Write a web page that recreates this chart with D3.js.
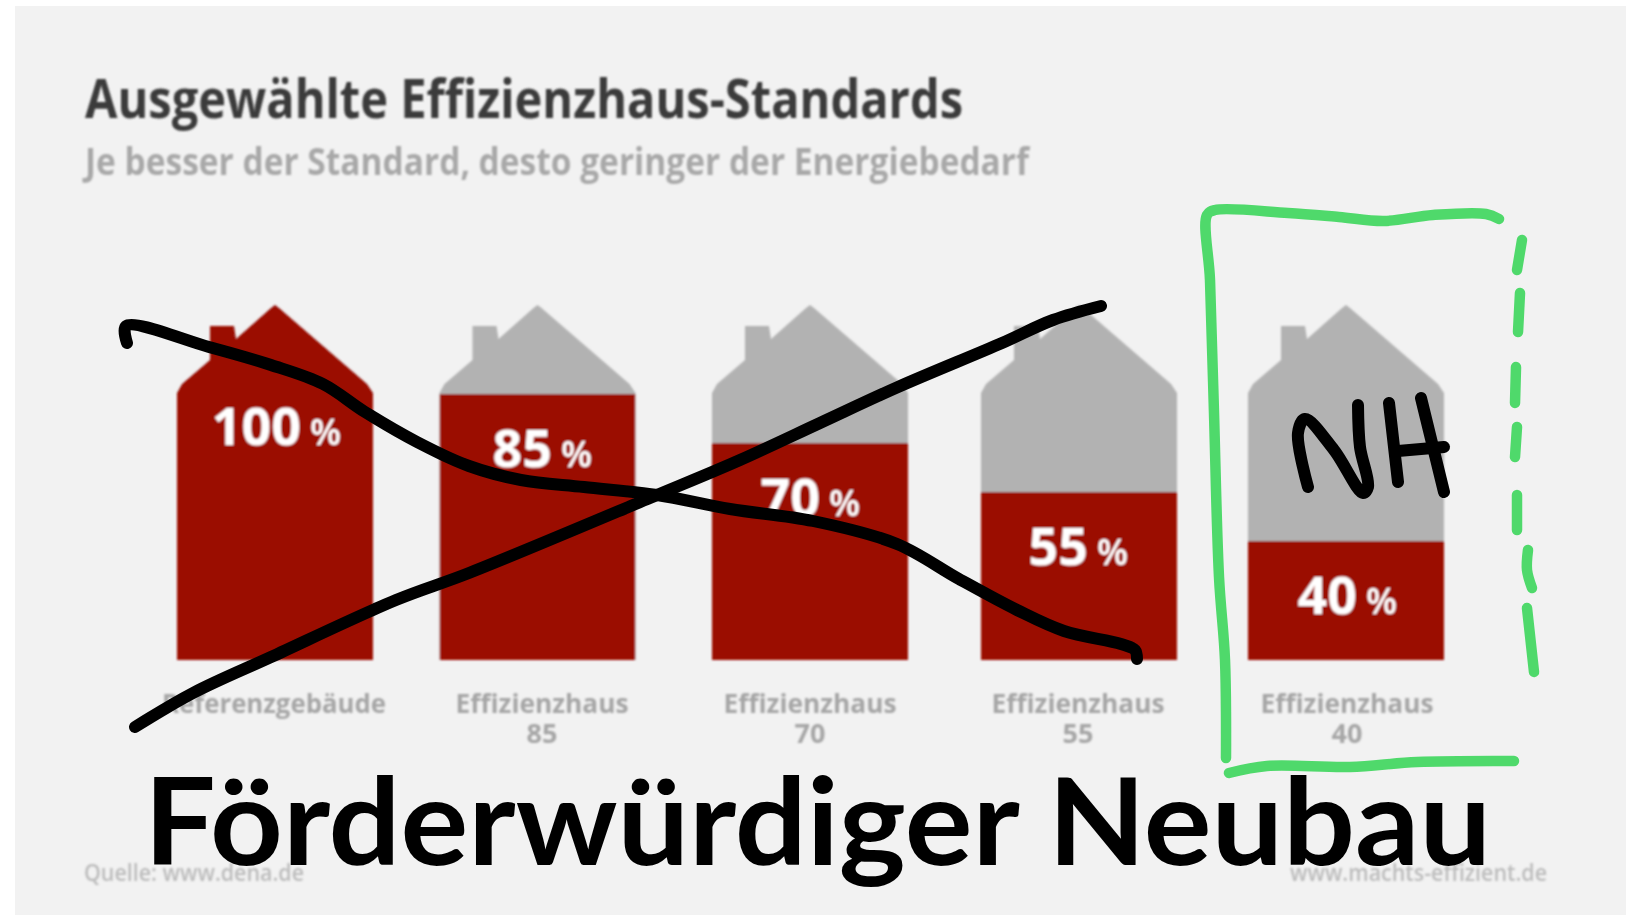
<!DOCTYPE html>
<html>
<head>
<meta charset="utf-8">
<script src="https://cdn.jsdelivr.net/npm/d3@7"></script>
<style>
  html, body { margin: 0; padding: 0; background: #fff; }
  svg { display: block; }
</style>
</head>
<body>
<div id="chart"></div>
<script>
const categories = ["Referenzgebäude", "Effizienzhaus", "Effizienzhaus", "Effizienzhaus", "Effizienzhaus"];
const subLabels = ["", "85", "70", "55", "40"];
const values = [100, 85, 70, 55, 40];
const titleText = "Ausgewählte Effizienzhaus-Standards";
const subtitleText = "Je besser der Standard, desto geringer der Energiebedarf";
const sourceText = "Quelle: www.dena.de";
const siteText = "www.machts-effizient.de";
const bigText = "Förderwürdiger Neubau";

// hand drawn strokes on top of the chart
const crossDown = [[127,343],[126,326],[209,347],[271,365],[323,384],[365,412],[417,442],[469,466],[521,480],[584,487],[657,495],[730,509],[813,521],[897,544],[959,579],[1017,610],[1064,631],[1121,644],[1135,650],[1137,659]];
const crossUp = [[135,727],[193,693],[271,657],[396,600],[469,573],[657,495],[740,460],[820,423],[898,387],[1002,343],[1053,320],[1101,306]];
const nhN = [[1308,487],[1298,433],[1305,419],[1334,450],[1363,493],[1368,487],[1360,447],[1358,405]];
const nhHLeft = [[1389,403],[1398,482]];
const nhHRight = [[1421,398],[1444,492]];
const nhHBar = [[1398,451],[1444,447]];
const greenOpen = [[1226,758],[1225,660],[1219,577],[1214,413],[1210,280],[1207,215],[1215,210],[1288,213],[1339,217],[1384,221],[1433,215],[1486,214],[1499,219]];
const greenBottom = [[1229,773],[1267,766],[1350,767],[1417,762],[1514,761]];
const greenDashes = [
  [[1522,240],[1517,270]],
  [[1520,293],[1518,332]],
  [[1516,367],[1515,403]],
  [[1517,427],[1515,457]],
  [[1517,495],[1517,530]],
  [[1528,550],[1527,570],[1532,588]],
  [[1527,608],[1534,672]]
];

const width = 1635, height = 915;
const red = "#9b0e04", grey = "#b2b2b2";

const svg = d3.select("#chart").append("svg")
  .attr("width", width)
  .attr("height", height);

const defs = svg.append("defs");
defs.append("filter").attr("id", "soft")
  .attr("x", "-5%").attr("y", "-20%").attr("width", "110%").attr("height", "140%")
  .append("feGaussianBlur").attr("stdDeviation", 1);

svg.append("rect")
  .attr("x", 15).attr("y", 6)
  .attr("width", 1611).attr("height", 909)
  .attr("fill", "#f2f2f2");

const base = svg.append("g").attr("filter", "url(#soft)");

// house centres are not evenly spaced in the picture
const idx = values.map((d, i) => i);
const houseX = d3.scaleOrdinal(idx, [275, 537.5, 810, 1079, 1346]);
const labelX = d3.scaleOrdinal(idx, [274, 542, 810, 1078, 1347]);
const pctX = d3.scaleOrdinal(idx, [310, 561, 829, 1097, 1366]);

const baseY = 660, houseW = 196;
const y = d3.scaleLinear().domain([40, 85, 100]).range([541, 394, 305]);

// outline of one house, relative to its left edge
const outline = [[0,baseY],[0,393],[5,384],[33,360],[33,326],[57,326],[59,339],[94,308],[98,305],[102,308],[190,384],[196,393],[196,baseY]];
const houseLine = d3.line();

const houses = base.selectAll("g.house").data(values).enter().append("g")
  .attr("class", "house")
  .attr("transform", (d, i) => "translate(" + (houseX(i) - houseW / 2) + ",0)");

houses.append("clipPath")
  .attr("id", (d, i) => "house" + i)
  .append("path").attr("d", houseLine(outline));

houses.append("path")
  .attr("d", houseLine(outline))
  .attr("fill", grey);

houses.append("rect")
  .attr("clip-path", (d, i) => "url(#house" + i + ")")
  .attr("x", 0).attr("width", houseW)
  .attr("y", d => y(d))
  .attr("height", d => baseY - y(d))
  .attr("fill", red);

// value labels, the 100 one sits lower than its fill edge
const valueBase = d => Math.max(y(d), 372) + 73;
const valueFont = "'Open Sans', sans-serif";

base.selectAll("text.num").data(values).enter().append("text")
  .attr("class", "num")
  .attr("x", (d, i) => pctX(i) - 9)
  .attr("y", valueBase)
  .attr("text-anchor", "end")
  .attr("font-family", valueFont)
  .attr("font-weight", 700)
  .attr("font-size", 52)
  .attr("fill", "#fff")
  .text(d => d);

base.selectAll("text.pct").data(values).enter().append("text")
  .attr("class", "pct")
  .attr("x", (d, i) => pctX(i))
  .attr("y", valueBase)
  .attr("font-family", valueFont)
  .attr("font-weight", 600)
  .attr("font-size", 36)
  .attr("fill", "#fff")
  .text("%");

// category labels
const labelFont = "'Open Sans', sans-serif";
base.selectAll("text.cat").data(categories).enter().append("text")
  .attr("class", "cat")
  .attr("x", (d, i) => labelX(i))
  .attr("y", 713)
  .attr("text-anchor", "middle")
  .attr("font-family", labelFont)
  .attr("font-weight", 700)
  .attr("font-size", 27)
  .attr("fill", "#a6a6a6")
  .attr("textLength", (d, i) => i === 0 ? 224 : 173)
  .attr("lengthAdjust", "spacingAndGlyphs")
  .text(d => d);

base.selectAll("text.sub").data(subLabels.filter(d => d)).enter().append("text")
  .attr("class", "sub")
  .attr("x", (d, i) => labelX(i + 1))
  .attr("y", 743)
  .attr("text-anchor", "middle")
  .attr("font-family", labelFont)
  .attr("font-weight", 700)
  .attr("font-size", 27)
  .attr("fill", "#a6a6a6")
  .text(d => d);

// headings
base.append("text")
  .attr("x", 85).attr("y", 118)
  .attr("font-family", "'Open Sans', sans-serif")
  .attr("font-weight", 700)
  .attr("font-size", 53)
  .attr("fill", "#3a3a3a")
  .attr("textLength", 878)
  .attr("lengthAdjust", "spacingAndGlyphs")
  .text(titleText);

base.append("text")
  .attr("x", 85).attr("y", 175)
  .attr("font-family", "'Open Sans', sans-serif")
  .attr("font-weight", 700)
  .attr("font-size", 38)
  .attr("fill", "#a8a8a8")
  .attr("textLength", 944)
  .attr("lengthAdjust", "spacingAndGlyphs")
  .text(subtitleText);

// footer
base.append("text")
  .attr("x", 84).attr("y", 881)
  .attr("font-family", "'Open Sans', sans-serif")
  .attr("font-weight", 600)
  .attr("font-size", 23)
  .attr("fill", "#bcbcbc")
  .attr("textLength", 220)
  .attr("lengthAdjust", "spacingAndGlyphs")
  .text(sourceText);

base.append("text")
  .attr("x", 1290).attr("y", 881)
  .attr("font-family", "'Open Sans', sans-serif")
  .attr("font-weight", 600)
  .attr("font-size", 23)
  .attr("fill", "#bcbcbc")
  .attr("textLength", 257)
  .attr("lengthAdjust", "spacingAndGlyphs")
  .text(siteText);

// big overlay text
svg.append("text")
  .attr("x", 144).attr("y", 865)
  .attr("font-family", "Lato, sans-serif")
  .attr("font-weight", 700)
  .attr("font-size", 120)
  .attr("fill", "#000")
  .attr("textLength", 1347)
  .attr("lengthAdjust", "spacingAndGlyphs")
  .text(bigText);

// strokes
const pen = d3.line().curve(d3.curveCatmullRom.alpha(0.5));

function drawStrokes(list, colour, w) {
  svg.append("g")
    .attr("fill", "none")
    .attr("stroke", colour)
    .attr("stroke-width", w)
    .attr("stroke-linecap", "round")
    .attr("stroke-linejoin", "round")
    .selectAll("path").data(list).enter().append("path")
    .attr("d", pen);
}

drawStrokes([crossDown, crossUp, nhN, nhHLeft, nhHRight, nhHBar], "#000", 12);
drawStrokes([greenOpen, greenBottom].concat(greenDashes), "#4fd96b", 10.5);
</script>
</body>
</html>
